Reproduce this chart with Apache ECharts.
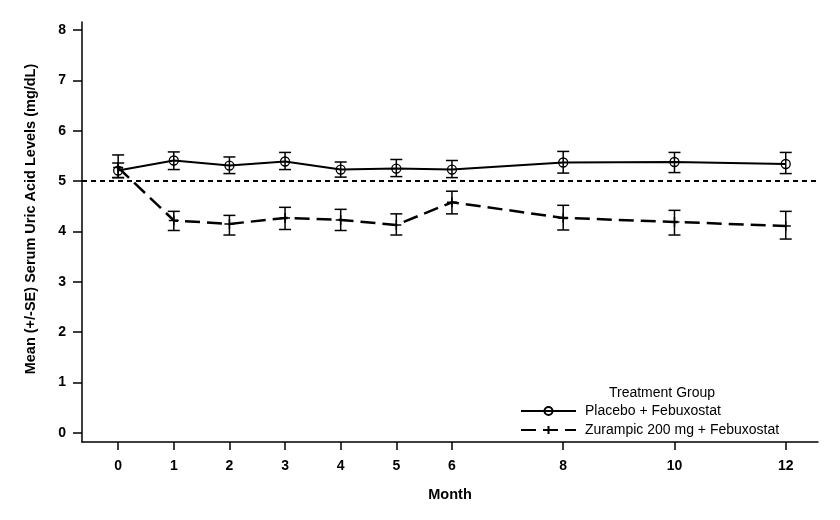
<!DOCTYPE html>
<html>
<head>
<meta charset="utf-8">
<script src="https://cdn.jsdelivr.net/npm/echarts@6/dist/echarts.min.js"></script>
<style>html,body{margin:0;padding:0;background:#fff}#c{width:840px;height:520px}</style>
</head>
<body>
<div id="c"></div>
<script>
var months = [0, 1, 2, 3, 4, 5, 6, 8, 10, 12];
var xTicks = [0, 1, 2, 3, 4, 5, 6, 8, 10, 12];
var yTicks = [0, 1, 2, 3, 4, 5, 6, 7, 8];
var placeboMean = [5.21, 5.41, 5.31, 5.39, 5.23, 5.25, 5.23, 5.37, 5.38, 5.34];
var placeboLow  = [5.07, 5.23, 5.15, 5.23, 5.08, 5.09, 5.07, 5.16, 5.17, 5.15];
var placeboHigh = [5.36, 5.58, 5.48, 5.57, 5.38, 5.43, 5.41, 5.59, 5.57, 5.57];
var zurMean = [5.27, 4.22, 4.15, 4.27, 4.23, 4.13, 4.58, 4.27, 4.19, 4.11];
var zurLow  = [5.07, 4.02, 3.93, 4.04, 4.02, 3.93, 4.35, 4.03, 3.93, 3.85];
var zurHigh = [5.52, 4.40, 4.32, 4.48, 4.44, 4.35, 4.80, 4.52, 4.42, 4.40];
var refLevel = 5;
var nameA = 'Placebo + Febuxostat';
var nameB = 'Zurampic 200 mg + Febuxostat';

var FONT = '"Liberation Sans", Arial, Helvetica, sans-serif';
function pairs(m) { return months.map(function (x, i) { return [x, m[i]]; }); }
function bars(lo, hi) { return months.map(function (x, i) { return [x, lo[i], hi[i]]; }); }

function errRender(params, api) {
  var x = api.value(0);
  var lo = api.coord([x, api.value(1)]);
  var hi = api.coord([x, api.value(2)]);
  var w = 6;
  var st = { stroke: '#000', lineWidth: 1.5, fill: null };
  return {
    type: 'group',
    children: [
      { type: 'line', shape: { x1: lo[0], y1: lo[1], x2: hi[0], y2: hi[1] }, style: st },
      { type: 'line', shape: { x1: lo[0] - w, y1: lo[1], x2: lo[0] + w, y2: lo[1] }, style: st },
      { type: 'line', shape: { x1: hi[0] - w, y1: hi[1], x2: hi[0] + w, y2: hi[1] }, style: st }
    ]
  };
}

var chart = echarts.init(document.getElementById('c'), null, { renderer: 'canvas' });
chart.setOption({
  animation: false,
  backgroundColor: '#fff',
  textStyle: { fontFamily: FONT, color: '#000' },
  grid: { left: 82, right: 22, top: 22, bottom: 78 },
  title: {
    text: 'Treatment Group',
    left: 657, top: 381, textAlign: 'center',
    textStyle: { fontFamily: FONT, fontSize: 14, fontWeight: 'normal', color: '#000' }
  },
  legend: {
    orient: 'vertical',
    left: 515, top: 399,
    itemWidth: 55, itemHeight: 10, itemGap: 5,
    textStyle: { fontFamily: FONT, fontSize: 14, color: '#000', padding: [0, 0, 0, 4] },
    data: [nameA, nameB]
  },
  xAxis: {
    type: 'value', min: -0.65, max: 12.58,
    name: 'Month', nameLocation: 'middle', nameGap: 45,
    nameTextStyle: { fontFamily: FONT, fontSize: 14.5, fontWeight: 'bold', color: '#000' },
    splitLine: { show: false },
    axisLine: { onZero: false, lineStyle: { color: '#000', width: 1.5 } },
    axisTick: { customValues: xTicks, length: 8, lineStyle: { color: '#000', width: 1.5 } },
    axisLabel: { customValues: xTicks, margin: 17, fontFamily: FONT, fontSize: 14, fontWeight: 'bold', color: '#000' }
  },
  yAxis: {
    type: 'value', min: -0.18, max: 8.16,
    name: 'Mean (+/-SE) Serum Uric Acid Levels (mg/dL)', nameLocation: 'middle', nameGap: 44,
    nameTextStyle: { fontFamily: FONT, fontSize: 14.5, fontWeight: 'bold', color: '#000', padding: [0, 0, 0, 26] },
    splitLine: { show: false },
    axisLine: { show: true, onZero: false, lineStyle: { color: '#000', width: 1.5 } },
    axisTick: { show: true, customValues: yTicks, length: 9, lineStyle: { color: '#000', width: 1.5 } },
    axisLabel: { customValues: yTicks, margin: 16, fontFamily: FONT, fontSize: 14, fontWeight: 'bold', color: '#000' }
  },
  series: [
    {
      name: nameA, type: 'line', data: pairs(placeboMean), z: 3,
      symbol: 'circle', symbolSize: 9, showAllSymbol: true,
      lineStyle: { color: '#000', width: 2 },
      itemStyle: { color: 'rgba(255,255,255,0)', borderColor: '#000', borderWidth: 1.3 },
      markLine: {
        silent: true, symbol: 'none', label: { show: false },
        lineStyle: { color: '#000', type: [5, 4], width: 2 },
        data: [{ yAxis: refLevel }]
      }
    },
    {
      name: nameB, type: 'line', data: pairs(zurMean), z: 3,
      symbol: 'path://M5,0 L5,10 M0,5 L10,5', symbolSize: 10, showAllSymbol: true,
      lineStyle: { color: '#000', width: 2.5, type: [15, 7] },
      itemStyle: { color: 'rgba(255,255,255,0)', borderColor: '#000', borderWidth: 1.5 }
    },
    { type: 'custom', renderItem: errRender, data: bars(placeboLow, placeboHigh), z: 2, silent: true },
    { type: 'custom', renderItem: errRender, data: bars(zurLow, zurHigh), z: 2, silent: true }
  ]
});
</script>
</body>
</html>
